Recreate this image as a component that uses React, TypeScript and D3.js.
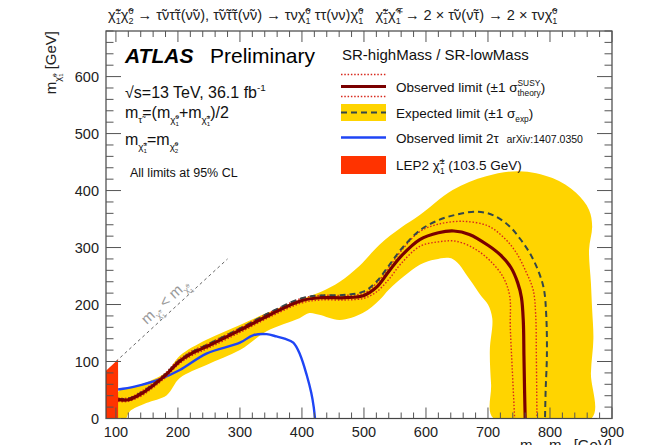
import React from 'react';
import * as d3 from 'd3';

const W = 649;
const H = 445;
const FONT = '"Liberation Sans", Arial, Helvetica, sans-serif';

// limit contours, [m(chargino) GeV, m(neutralino) GeV]
const observed = [[103.5,33],[120,33],[140,43],[160,58],[180,76],[200,98],[220,113],[250,128],[300,155],[350,183],[400,207],[430,212],[470,212],[500,216],[520,230],[540,258],[560,285],[590,314],[620,326],[645,329],[670,323],[700,304],[720,287],[737,265],[748,238],[754,212],[757,170],[758,110],[759,50],[760,0]];
const theoryUp = [[103.5,36],[120,36],[140,47],[160,62],[180,80],[200,102],[220,117],[250,132],[300,159],[350,187],[400,211],[430,216],[470,216],[500,220],[520,237],[540,265],[560,294],[590,328],[620,341],[660,346],[700,338],[725,318],[745,292],[762,256],[773,225],[777,180],[778,110],[779,0]];
const theoryDown = [[103.5,30],[120,30],[140,39],[160,54],[180,72],[200,94],[220,109],[250,124],[300,151],[350,179],[400,203],[430,208],[470,208],[500,211],[520,222],[540,244],[560,272],[590,302],[620,310],[649,311],[680,297],[705,275],[725,247],[735,215],[736,160],[739,90],[743,0]];
const expected = [[103.5,34],[120,35],[140,45],[160,60],[180,78],[200,100],[220,115],[250,131],[300,158],[350,187],[400,211],[430,216],[470,217],[500,223],[520,240],[540,268],[560,297],[590,330],[620,348],[650,358],[683,363],[710,356],[735,337],[752,315],[767,291],[780,262],[790,228],[794,180],[795,110],[793,50],[792,0]];
const bandUpper = [[103.5,0],[103.5,47],[139,59],[182,82],[203,110],[246,138],[300,164],[343,185],[396,208],[430,222],[461,240],[493,268],[525,305],[560,335],[590,357],[643,401],[697,425],[750,434],[804,422],[842,396],[863,366],[868,337],[863,296],[866,238],[868,191],[870,140],[866,80],[867,0]];
const bandLower = [[709,0],[705,60],[703,120],[707,175],[700,200],[689,215],[670,245],[643,280],[615,279],[590,270],[565,250],[540,226],[525,208],[498,185],[461,173],[428,182],[412,185],[396,176],[343,153],[300,120],[246,94],[203,71],[182,41],[149,27],[122,12],[117,0]];
const blue2tau = [[103.5,51],[130,56],[171,69],[203,85],[246,114],[300,133],[321,146],[343,148],[359,144],[372,140],[386,133],[397,112],[408,75],[415,45],[419,20],[421,0]];
const lep2 = [[84,0],[84,84],[103.5,103.5],[103.5,0]];
const diagonal = [[100,100],[280,280]];

const xMajor = [100, 200, 300, 400, 500, 600, 700, 800, 900];
const yMajor = [0, 100, 200, 300, 400, 500, 600];

const x = d3.scaleLinear().domain([84, 900]).range([106, 612]);
const y = d3.scaleLinear().domain([0, 680]).range([418.5, 31]);

const smooth = d3.line<number[]>().x(d => x(d[0])).y(d => y(d[1])).curve(d3.curveCatmullRom.alpha(0.5));
const straight = d3.line<number[]>().x(d => x(d[0])).y(d => y(d[1]));

const YELLOW = '#ffd400';
const DARKRED = '#7a0000';
const DOTRED = '#d8281c';
const EXPC = '#34474a';
const BLUE = '#1f45f5';
const LEPRED = '#ff3300';

type Seg = { t: string; s?: number; y?: number; back?: boolean };

let ctx: CanvasRenderingContext2D | null = null;
function textWidth(t: string, size: number) {
    if (!ctx) ctx = document.createElement('canvas').getContext('2d');
    if (!ctx) return t.length * size * 0.55;
    ctx.font = `${size}px "Liberation Sans", Arial, sans-serif`;
    return ctx.measureText(t).width;
}

function spans(segs: Seg[], fs: number) {
    let cur = 0;
    let prevW = 0;
    return segs.map((g, i) => {
        const size = fs * (g.s ?? 1);
        const target = (g.y ?? 0) * fs;
        const dy = target - cur;
        cur = target;
        const dx = g.back ? -prevW : 0;
        prevW = textWidth(g.t, size);
        return <tspan key={i} dx={dx || undefined} dy={dy || undefined} fontSize={size}>{g.t}</tspan>;
    });
}

const T = (t: string, s = 1, yy = 0): Seg => ({ t, s, y: yy });
const chi = (sup: string, sub: string, s = 1, yy = 0): Seg[] => [
    { t: 'χ\u0303', s, y: yy },
    { t: sup, s: s * 0.62, y: yy - 0.42 * s },
    { t: sub, s: s * 0.62, y: yy + 0.3 * s, back: true },
];
const mchi = (sup: string, sub: string): Seg[] => [T('m'), ...chi(sup, sub, 0.62, 0.3)];

const tt = 'τ\u0303';
const nt = 'ν\u0303';

const titleSegs: Seg[] = [
    ...chi('±', '1'), ...chi('0', '2'),
    T(` → ${tt}ν${tt}τ(${nt}ν), ${tt}${nt}${tt}τ(${nt}ν) → τν`), ...chi('0', '1'),
    T(' ττ(νν)'), ...chi('0', '1'),
    T('   '), ...chi('±', '1'), ...chi('∓', '1'),
    T(` → 2 × ${tt}ν(${nt}τ) → 2 × τν`), ...chi('0', '1'),
];

const Txt = ({ x: tx, y: ty, fs, segs, anchor = 'start', fill = '#111', rotate = 0 }:
    { x: number; y: number; fs: number; segs: Seg[]; anchor?: string; fill?: string; rotate?: number }) => (
    <text
        transform={`translate(${tx},${ty}) rotate(${rotate})`}
        textAnchor={anchor}
        fontSize={fs}
        fill={fill}
        style={{ whiteSpace: 'pre' }}
    >
        {spans(segs, fs)}
    </text>
);

export default function App() {
    const xMinor = d3.range(100, 901, 20).filter(v => !xMajor.includes(v));
    const yMinor = d3.range(0, 681, 20).filter(v => !yMajor.includes(v));
    const left = x.range()[0], right = x.range()[1];
    const bottom = y.range()[0], top = y.range()[1];

    const bandPath = smooth([...bandUpper, ...bandLower]) + 'Z';

    // label along the m(chargino) = m(neutralino) line
    const slope = (y(0) - y(100)) / (x(100) - x(0));
    const deg = -Math.atan(slope) * 180 / Math.PI;
    const rad = -deg * Math.PI / 180;
    const lx = x(191), ly = y(191);
    const px = lx - Math.sin(rad) * 6;
    const py = ly - Math.cos(rad) * 6;

    const legX0 = 341, legX1 = 386, legTx = 396;

    return (
        <svg width={W} height={H} style={{ position: 'absolute', left: 0, top: 0, background: '#fff' }} fontFamily={FONT}>
            <defs>
                <clipPath id="plot">
                    <rect x={left} y={top} width={right - left} height={bottom - top} />
                </clipPath>
            </defs>

            <g clipPath="url(#plot)">
                <path d={bandPath} fill={YELLOW} />
                <path d={smooth(blue2tau) ?? ''} fill="none" stroke={BLUE} strokeWidth={2.4} />
                <path d={smooth(theoryUp) ?? ''} fill="none" stroke={DOTRED} strokeWidth={1.4} strokeDasharray="1.5,1.8" />
                <path d={smooth(theoryDown) ?? ''} fill="none" stroke={DOTRED} strokeWidth={1.4} strokeDasharray="1.5,1.8" />
                <path d={smooth(expected) ?? ''} fill="none" stroke={EXPC} strokeWidth={2} strokeDasharray="6,4" />
                <path d={smooth(observed) ?? ''} fill="none" stroke={DARKRED} strokeWidth={3.2} />
                <path d={straight(diagonal) ?? ''} fill="none" stroke="#666" strokeWidth={1} strokeDasharray="3,3" />
                <path d={(straight(lep2) ?? '') + 'Z'} fill={LEPRED} />
            </g>

            <Txt x={px} y={py} fs={15} rotate={deg} anchor="middle" fill="#9a9a9a" segs={[...mchi('±', '1'), T(' < '), ...mchi('0', '1')]} />

            {/* frame */}
            <rect x={left} y={top} width={right - left} height={bottom - top} fill="none" stroke="#444" strokeWidth={1.2} />
            {xMajor.map(v => (
                <g key={'xm' + v} stroke="#555" strokeWidth={1}>
                    <line x1={x(v)} x2={x(v)} y1={bottom} y2={bottom - 11} />
                    <line x1={x(v)} x2={x(v)} y1={top} y2={top + 11} />
                </g>
            ))}
            {xMinor.map(v => (
                <g key={'xn' + v} stroke="#555" strokeWidth={1}>
                    <line x1={x(v)} x2={x(v)} y1={bottom} y2={bottom - 6} />
                    <line x1={x(v)} x2={x(v)} y1={top} y2={top + 6} />
                </g>
            ))}
            {yMajor.map(v => (
                <g key={'ym' + v} stroke="#555" strokeWidth={1}>
                    <line x1={left} x2={left + 15} y1={y(v)} y2={y(v)} />
                    <line x1={right} x2={right - 15} y1={y(v)} y2={y(v)} />
                </g>
            ))}
            {yMinor.map(v => (
                <g key={'yn' + v} stroke="#555" strokeWidth={1}>
                    <line x1={left} x2={left + 7.5} y1={y(v)} y2={y(v)} />
                    <line x1={right} x2={right - 7.5} y1={y(v)} y2={y(v)} />
                </g>
            ))}
            {xMajor.map(v => (
                <text key={'xl' + v} x={x(v)} y={437} textAnchor="middle" fontSize={14.5} fill="#222">{v}</text>
            ))}
            {yMajor.map(v => (
                <text key={'yl' + v} x={99} y={y(v) + 5} textAnchor="end" fontSize={14.5} fill="#222">{v}</text>
            ))}

            {/* axis titles */}
            <Txt x={612} y={450} fs={15} anchor="end" fill="#222" segs={[...mchi('±', '1'), T(', '), ...mchi('0', '2'), T(' [GeV]')]} />
            <Txt x={56} y={31} fs={15} anchor="end" rotate={-90} fill="#222" segs={[...mchi('0', '1'), T(' [GeV]')]} />

            {/* process title */}
            <Txt x={108} y={20} fs={14.6} fill="#222" segs={titleSegs} />

            {/* labels */}
            <text x={125} y={63} fontSize={21} fontWeight="bold" fontStyle="italic" fill="#000">ATLAS</text>
            <text x={210} y={63} fontSize={21} fill="#000">Preliminary</text>
            <Txt x={125} y={98} fs={16} fill="#111" segs={[T('√s=13 TeV, 36.1 fb'), T('-1', 0.62, -0.42)]} />
            <Txt x={125} y={118} fs={16} fill="#111" segs={[T('m'), T(tt, 0.62, 0.3), T('=(m'), ...chi('0', '1', 0.62, 0.3), T('+m'), ...chi('±', '1', 0.62, 0.3), T(')/2')]} />
            <Txt x={125} y={145} fs={16} fill="#111" segs={[...mchi('±', '1'), T('=m'), ...chi('0', '2', 0.62, 0.3)]} />
            <text x={130} y={177} fontSize={12.5} fill="#111">All limits at 95% CL</text>

            {/* legend */}
            <text x={342} y={60} fontSize={15} fill="#111">SR-highMass / SR-lowMass</text>
            <line x1={legX0} x2={legX1} y1={74.5} y2={74.5} stroke={DOTRED} strokeWidth={1.4} strokeDasharray="1.5,1.8" />
            <line x1={legX0} x2={legX1} y1={96.5} y2={96.5} stroke={DOTRED} strokeWidth={1.4} strokeDasharray="1.5,1.8" />
            <line x1={legX0} x2={legX1} y1={86.5} y2={86.5} stroke={DARKRED} strokeWidth={3.2} />
            <Txt x={legTx} y={92} fs={13.5} fill="#111" segs={[T('Observed limit (±1 σ'), T('SUSY', 0.62, -0.42), { t: 'theory', s: 0.62, y: 0.32, back: true }, T(')')]} />
            <rect x={legX0} y={104} width={legX1 - legX0} height={17} fill={YELLOW} />
            <line x1={legX0} x2={legX1} y1={112.5} y2={112.5} stroke={EXPC} strokeWidth={2} strokeDasharray="6,4" />
            <Txt x={legTx} y={118} fs={13.5} fill="#111" segs={[T('Expected limit (±1 σ'), T('exp', 0.62, 0.32), T(')')]} />
            <line x1={legX0} x2={legX1} y1={137.5} y2={137.5} stroke={BLUE} strokeWidth={2.4} />
            <Txt x={legTx} y={143} fs={13.5} fill="#111" segs={[T('Observed limit 2τ  '), T('arXiv:1407.0350', 0.78)]} />
            <rect x={legX0} y={156} width={legX1 - legX0} height={18} fill={LEPRED} />
            <Txt x={legTx} y={170} fs={13.5} fill="#111" segs={[T('LEP2 '), ...chi('±', '1'), T(' (103.5 GeV)')]} />
        </svg>
    );
}
